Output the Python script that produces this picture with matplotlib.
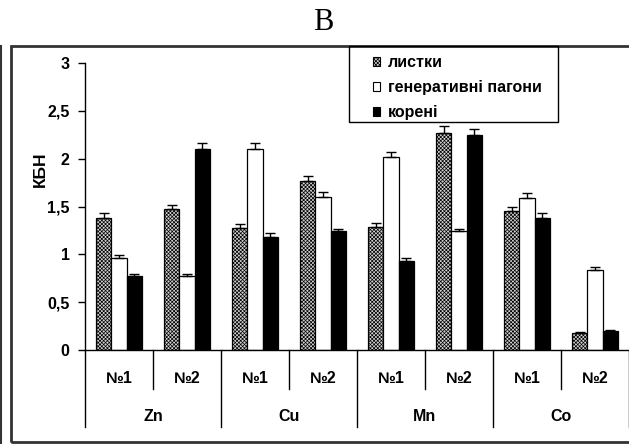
import matplotlib
matplotlib.use("Agg")
import matplotlib.pyplot as plt
import numpy as np
from matplotlib.patches import Rectangle
from matplotlib.lines import Line2D

plt.rcParams['font.family'] = ['Liberation Sans', 'DejaVu Sans']
plt.rcParams['hatch.color'] = '#8a8a8a'
plt.rcParams['hatch.linewidth'] = 0.5

# Data
elements = ["Zn", "Cu", "Mn", "Co"]
samples = ["№1", "№2"] * 4
series_names = ["листки", "генеративні пагони", "корені"]
leaves = [1.38, 1.47, 1.28, 1.77, 1.29, 2.27, 1.45, 0.18]
shoots = [0.96, 0.77, 2.10, 1.60, 2.02, 1.24, 1.59, 0.84]
roots = [0.77, 2.10, 1.18, 1.24, 0.93, 2.25, 1.38, 0.20]
leaves_err = [0.05, 0.05, 0.04, 0.05, 0.04, 0.07, 0.05, 0.005]
shoots_err = [0.035, 0.02, 0.065, 0.05, 0.05, 0.03, 0.05, 0.025]
roots_err = [0.02, 0.065, 0.04, 0.03, 0.03, 0.065, 0.05, 0.01]
yticks = [0, 0.5, 1, 1.5, 2, 2.5, 3]
ytick_labels = ["0", "0,5", "1", "1,5", "2", "2,5", "3"]

W, H = 629, 444
fig = plt.figure(figsize=(W / 100, H / 100), dpi=100)
ax = fig.add_axes([85 / W, 1 - 350 / H, 544 / W, 287 / H])

x = np.arange(len(samples))
bw = 0.228
off = 0.225
styles = [
    dict(facecolor='#d0d0d0', hatch='xxxxxxxxx'),
    dict(facecolor='white'),
    dict(facecolor='black'),
]
data = [leaves, shoots, roots]
errs = [leaves_err, shoots_err, roots_err]
for i, (vals, err, st) in enumerate(zip(data, errs, styles)):
    pos = x + (i - 1) * off
    ax.bar(pos, vals, width=bw, edgecolor='black', linewidth=0.9, zorder=2, **st)
    ax.errorbar(pos, vals, yerr=[np.zeros(len(err)), err], fmt='none',
                ecolor='black', elinewidth=1, capsize=3.5, capthick=1, zorder=3)

ax.set_xlim(-0.5, len(samples) - 0.5)
ax.set_ylim(0, 3)
ax.set_yticks(yticks)
ax.set_yticklabels(ytick_labels, fontsize=11.5, fontweight='bold')
ax.tick_params(axis='y', direction='out', length=5, width=1, pad=6)
ax.set_xticks([])
for s in ['top', 'right']:
    ax.spines[s].set_visible(False)
ax.spines['left'].set_linewidth(1)
ax.spines['bottom'].set_linewidth(1)

trans = ax.get_xaxis_transform()
# separators
for k in range(len(samples) + 1):
    xp = k - 0.5
    bottom = -0.268 if k % 2 == 0 else -0.136
    ax.add_line(Line2D([xp, xp], [0, bottom], transform=trans, color='black',
                       linewidth=1, clip_on=False))
for k, s in enumerate(samples):
    ax.text(k, -0.098, s, transform=trans, ha='center', va='center',
            fontsize=11.5, fontweight='bold')
for k, e in enumerate(elements):
    ax.text(2 * k + 0.5, -0.233, e, transform=trans, ha='center', va='center',
            fontsize=11.5, fontweight='bold')

fig.text(40 / W, 1 - 169 / H, "КБН", rotation=90, ha='center', va='center',
         fontsize=12.5, fontweight='bold')
fig.text(323 / W, 1 - 22 / H, "В", ha='center', va='center', fontsize=22,
         family='Liberation Serif')

# legend
handles = [Rectangle((0, 0), 1, 1, edgecolor='black', linewidth=0.8, **st) for st in styles]
leg = fig.legend(handles, series_names, loc='upper left',
                 bbox_to_anchor=(373 / W, 1 - 55 / H), bbox_transform=fig.transFigure,
                 frameon=False, borderpad=0, borderaxespad=0,
                 handlelength=0.45, handleheight=0.5,
                 handletextpad=0.5, labelspacing=0.63,
                 prop=dict(size=11.5, weight='bold'))
fig.patches.append(Rectangle((349 / W, 1 - 122 / H), 209 / W, 76 / H,
                             transform=fig.transFigure, fill=False,
                             edgecolor='black', linewidth=1, zorder=5))
# outer frame
fig.patches.append(Rectangle((11 / W, 1 - 442 / H), 640 / W, 396 / H,
                             transform=fig.transFigure, fill=False,
                             edgecolor='#333333', linewidth=2))
fig.add_artist(Line2D([1 / W, 1 / W], [0, 1 - 46 / H], transform=fig.transFigure,
                      color='#333333', linewidth=1.5))

fig.savefig("out.png", dpi=100)
